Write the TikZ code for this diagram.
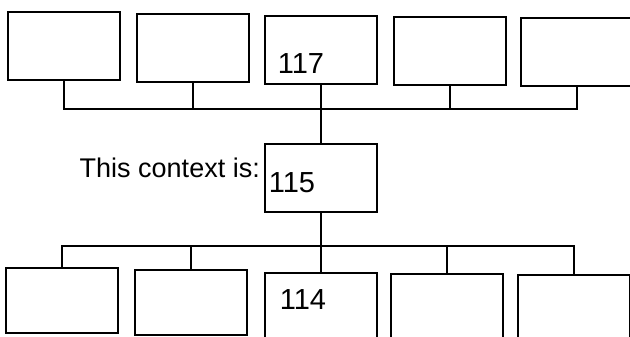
\documentclass[tikz,border=0pt]{standalone}
\usepackage{fontspec}
\setmainfont{Liberation Sans}
\usetikzlibrary{positioning}

\tikzset{
	box/.style={draw,line width=2pt,minimum width=112pt,minimum height=68pt,inner sep=0pt},
	lowbox/.style={box,minimum height=65pt},
	hand/.style={inner sep=0pt,font=\fontsize{29}{32}\selectfont},
	ctxlabel/.style={inner sep=0pt,font=\fontsize{27}{32}\selectfont},
	wire/.style={line width=2pt}
}

\begin{document}
\begin{tikzpicture}[x=1pt,y=-1pt]

	\useasboundingbox (0,0) rectangle (630,337);
	\clip (0,0) rectangle (630,337);

	% ligne du haut
	\node[box] (t1) at(64,46.5){};
	\node[box] (t2) at(193,48){};
	\node[box] (t3) at(320.5,50){};
	\node[box] (t4) at(449.5,51){};
	\node[box] (t5) at(577,52){};
	\node[hand] (n117) at(301,64){117};

	% le contexte
	\node[box] (m) at(320.5,178){};
	\node[hand] (n115) at(292,183){115};
	\node[ctxlabel,anchor=base east] (ctx) at(260,178){This context is:};

	% ligne du bas
	\node[lowbox] (b1) at(62,300.5){};
	\node[lowbox] (b2) at(191,302.5){};
	\node[lowbox] (b3) at(320.5,305.5){};
	\node[lowbox] (b4) at(447,306.5){};
	\node[lowbox] (b5) at(574,307.5){};
	\node[hand] (n114) at(303,300){114};

	\coordinate (bushaut) at(0,109.5);
	\coordinate (busbas) at(0,245.5);

	\draw[wire] (t1.south) -- (t1.south |- bushaut) -- (t5.south |- bushaut) -- (t5.south);
	\draw[wire] (t2.south) -- (t2.south |- bushaut);
	\draw[wire] (t4.south) -- (t4.south |- bushaut);
	\draw[wire] (t3.south) -- (m.north);

	\draw[wire] (b1.north) -- (b1.north |- busbas) -- (b5.north |- busbas) -- (b5.north);
	\draw[wire] (b2.north) -- (b2.north |- busbas);
	\draw[wire] (b4.north) -- (b4.north |- busbas);
	\draw[wire] (m.south) -- (b3.north);

\end{tikzpicture}
\end{document}
